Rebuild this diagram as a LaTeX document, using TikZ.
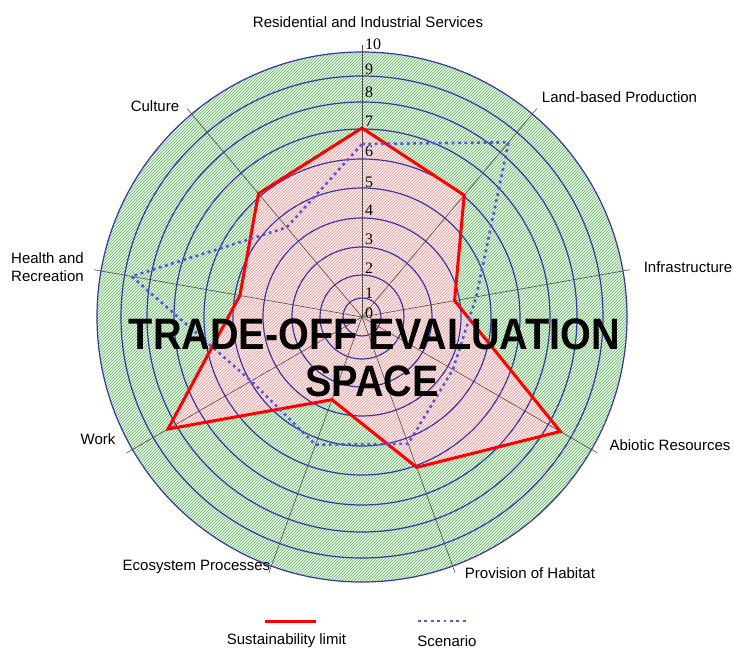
\documentclass[tikz,border=0pt]{standalone}
\usepackage{fontspec}
\setmainfont{Liberation Sans}
\newfontfamily\numfont{Liberation Serif}
\newfontfamily\bigfont[FakeStretch=0.9]{Liberation Sans}
\usetikzlibrary{patterns}
\definecolor{ringblue}{RGB}{55,55,165}
\definecolor{scenblue}{RGB}{85,85,225}
\definecolor{greenbg}{RGB}{232,246,232}
\definecolor{greenln}{RGB}{95,175,95}
\definecolor{pinkbg}{RGB}{255,242,242}
\definecolor{pinkln}{RGB}{240,140,140}
\begin{document}
\begin{tikzpicture}[x=1pt,y=1pt,
  ring/.style={draw=ringblue, line width=1.2pt},
  spoke/.style={draw=black!70, line width=0.6pt},
  limitline/.style={draw=red, line width=3pt, line join=miter},
  scenline/.style={draw=scenblue, line width=2.6pt, dash pattern=on 2.8pt off 3.6pt},
  axlabel/.style={font=\fontsize{15}{17}\selectfont, inner sep=0pt},
  numlabel/.style={font=\numfont\fontsize{16}{16}\selectfont, anchor=west, inner sep=0pt},
  bigtext/.style={font=\bigfont\bfseries\fontsize{44}{48}\selectfont, inner sep=0pt}]
\useasboundingbox (-362,-333) rectangle (372,317);
\coordinate (c) at (0,0);
% sustainability limit vertices
\coordinate (r1) at (90:189pt);
\coordinate (r2) at (50:159pt);
\coordinate (r3) at (10:94pt);
\coordinate (r4) at (-30:229pt);
\coordinate (r5) at (-70:160pt);
\coordinate (r6) at (-110:88pt);
\coordinate (r7) at (-150:224pt);
\coordinate (r8) at (170:124pt);
\coordinate (r9) at (130:161pt);
% scenario vertices
\coordinate (s1) at (90:173pt);
\coordinate (s2) at (50:228pt);
\coordinate (s3) at (10:116pt);
\coordinate (s4) at (-30:105pt);
\coordinate (s5) at (-70:135pt);
\coordinate (s6) at (-110:136pt);
\coordinate (s7) at (-150:128pt);
\coordinate (s8) at (170:234pt);
\coordinate (s9) at (130:117pt);
% green zone
\fill[greenbg] (c) circle[radius=265pt];
\fill[pattern=north east lines, pattern color=greenln] (c) circle[radius=265pt];
% pink zone
\fill[pinkbg] (r1)--(r2)--(r3)--(r4)--(r5)--(r6)--(r7)--(r8)--(r9)--cycle;
\fill[pattern=north east lines, pattern color=pinkln] (r1)--(r2)--(r3)--(r4)--(r5)--(r6)--(r7)--(r8)--(r9)--cycle;
% rings
\foreach \r in {19,42,70,99,129,158,188,215,241,265}
  \draw[ring] (c) circle[radius=\r pt];
% spokes
\foreach \a in {90,50,10,-30,-70,-110,-150,170,130}
  \draw[spoke] (c) -- (\a:272pt);
% ring numbers
\node[numlabel] (n0) at (3,4) {0};
\node[numlabel] (n1) at (3,24) {1};
\node[numlabel] (n2) at (3,49) {2};
\node[numlabel] (n3) at (3,78) {3};
\node[numlabel] (n4) at (3,107) {4};
\node[numlabel] (n5) at (3,135) {5};
\node[numlabel] (n6) at (3,166) {6};
\node[numlabel] (n7) at (3,196) {7};
\node[numlabel] (n8) at (3,225) {8};
\node[numlabel] (n9) at (3,248) {9};
\node[numlabel] (n10) at (3,273) {10};
% polygons
\draw[limitline] (r1)--(r2)--(r3)--(r4)--(r5)--(r6)--(r7)--(r8)--(r9)--cycle;
\draw[scenline] (s1)--(s2)--(s3)--(s4)--(s5)--(s6)--(s7)--(s8)--(s9)--cycle;
% axis labels
\node[axlabel] (lres) at (6,295) {Residential and Industrial Services};
\node[axlabel] (lland) at (257.5,220) {Land-based Production};
\node[axlabel] (linf) at (326,50) {Infrastructure};
\node[axlabel] (labi) at (308,-128) {Abiotic Resources};
\node[axlabel] (lprov) at (168,-256) {Provision of Habitat};
\node[axlabel] (leco) at (-165.5,-250) {Ecosystem Processes};
\node[axlabel] (lwork) at (-264,-122) {Work};
\node[axlabel, anchor=west, align=left, font=\fontsize{15}{18}\selectfont] (lhea) at (-351,50) {Health and\\Recreation};
\node[axlabel] (lcul) at (-207,211) {Culture};
% big text
\node[bigtext] (big1) at (12.5,-17) {TRADE-OFF EVALUATION};
\node[bigtext] (big2) at (10,-64) {SPACE};
% legend
\coordinate (la) at (-96.5,-304);
\coordinate (lb) at (-45.5,-304);
\coordinate (lc) at (56,-304);
\coordinate (ld) at (105,-304);
\draw[limitline] (la) -- (lb);
\draw[scenline] (lc) -- (ld);
\node[axlabel] (leg1) at (-75.5,-324) {Sustainability limit};
\node[axlabel] (leg2) at (85,-324) {Scenario};
\end{tikzpicture}
\end{document}
